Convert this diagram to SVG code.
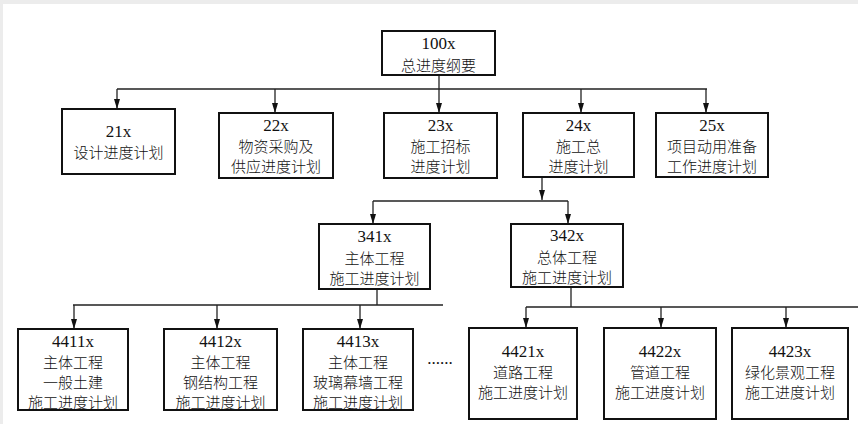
<svg xmlns="http://www.w3.org/2000/svg" width="858" height="424" viewBox="0 0 858 424">
<defs>
<marker id="ah" markerWidth="10" markerHeight="6" refX="10" refY="3" orient="auto" markerUnits="userSpaceOnUse">
<path d="M0,0 L10,3 L0,6 Z" fill="#111"/>
</marker>
<style>
.box{fill:#fff;stroke:#111;stroke-width:2}
.ln{fill:none;stroke:#222;stroke-width:1.3}
.ar{fill:none;stroke:#222;stroke-width:1.3;marker-end:url(#ah)}
text{font-family:"Liberation Serif","Noto Sans CJK SC",serif;font-size:16px;fill:#111;text-anchor:middle;dominant-baseline:central}
.num{font-family:"Liberation Serif",serif;font-size:17px}
.cn{font-family:"Noto Sans CJK SC",sans-serif;font-size:15px;font-weight:300}
</style>
</defs>
<rect x="0" y="0" width="858" height="424" fill="#fff"/>
<rect x="0" y="0" width="858" height="4" fill="#ececec"/>
<rect x="0" y="0" width="3" height="424" fill="#ececec"/>

<g id="connectors">
<path class="ln" d="M439,75 V89 M117,89 H707"/>
<path class="ar" d="M117,89 V109"/>
<path class="ar" d="M275,89 V113"/>
<path class="ar" d="M439,89 V113"/>
<path class="ar" d="M581,89 V113"/>
<path class="ar" d="M706,89 V113"/>
<path class="ar" d="M542,177 V200"/>
<path class="ln" d="M373,201 H568"/>
<path class="ar" d="M373,201 V224"/>
<path class="ar" d="M568,201 V224"/>
<path class="ln" d="M377,289 V305 M73,305 H443"/>
<path class="ar" d="M74,305 V329"/>
<path class="ar" d="M217,305 V329"/>
<path class="ar" d="M360,305 V329"/>
<path class="ln" d="M571,287 V307 M526,307 H858"/>
<path class="ar" d="M526,307 V328"/>
<path class="ar" d="M661,307 V328"/>
<path class="ar" d="M786,307 V328"/>
</g>

<g id="n100">
<rect class="box" x="382" y="31" width="113" height="44"/>
<text class="num" x="438.5" y="43">100x</text>
<text class="cn" x="438.5" y="64">总进度纲要</text>
</g>
<g id="n21">
<rect class="box" x="62" y="109" width="113" height="65"/>
<text class="num" x="118.5" y="131">21x</text>
<text class="cn" x="118.5" y="151">设计进度计划</text>
</g>
<g id="n22">
<rect class="box" x="219" y="113" width="114" height="65"/>
<text class="num" x="276" y="125">22x</text>
<text class="cn" x="276" y="145">物资采购及</text>
<text class="cn" x="276" y="165">供应进度计划</text>
</g>
<g id="n23">
<rect class="box" x="384" y="113" width="113" height="65"/>
<text class="num" x="440.5" y="125">23x</text>
<text class="cn" x="440.5" y="145">施工招标</text>
<text class="cn" x="440.5" y="165">进度计划</text>
</g>
<g id="n24">
<rect class="box" x="523" y="113" width="111" height="64"/>
<text class="num" x="578.5" y="125">24x</text>
<text class="cn" x="578.5" y="145">施工总</text>
<text class="cn" x="578.5" y="165">进度计划</text>
</g>
<g id="n25">
<rect class="box" x="656" y="113" width="112" height="64"/>
<text class="num" x="712" y="125">25x</text>
<text class="cn" x="712" y="145">项目动用准备</text>
<text class="cn" x="712" y="165">工作进度计划</text>
</g>
<g id="n341">
<rect class="box" x="319" y="224" width="111" height="65"/>
<text class="num" x="374.5" y="236">341x</text>
<text class="cn" x="374.5" y="257">主体工程</text>
<text class="cn" x="374.5" y="277">施工进度计划</text>
</g>
<g id="n342">
<rect class="box" x="511" y="224" width="112" height="63"/>
<text class="num" x="567" y="235">342x</text>
<text class="cn" x="567" y="256">总体工程</text>
<text class="cn" x="567" y="276">施工进度计划</text>
</g>
<g id="n4411">
<rect class="box" x="18" y="329" width="110" height="81"/>
<text class="num" x="73" y="341">4411x</text>
<text class="cn" x="73" y="361">主体工程</text>
<text class="cn" x="73" y="381">一般土建</text>
<text class="cn" x="73" y="401">施工进度计划</text>
</g>
<g id="n4412">
<rect class="box" x="164" y="329" width="113" height="81"/>
<text class="num" x="220.5" y="341">4412x</text>
<text class="cn" x="220.5" y="361">主体工程</text>
<text class="cn" x="220.5" y="381">钢结构工程</text>
<text class="cn" x="220.5" y="401">施工进度计划</text>
</g>
<g id="n4413">
<rect class="box" x="303" y="329" width="110" height="81"/>
<text class="num" x="358" y="341">4413x</text>
<text class="cn" x="358" y="361">主体工程</text>
<text class="cn" x="358" y="381">玻璃幕墙工程</text>
<text class="cn" x="358" y="401">施工进度计划</text>
</g>
<text class="num" x="440" y="358">......</text>
<g id="n4421">
<rect class="box" x="469" y="328" width="108" height="91"/>
<text class="num" x="523" y="351">4421x</text>
<text class="cn" x="523" y="371">道路工程</text>
<text class="cn" x="523" y="391">施工进度计划</text>
</g>
<g id="n4422">
<rect class="box" x="604" y="328" width="112" height="91"/>
<text class="num" x="660" y="351">4422x</text>
<text class="cn" x="660" y="371">管道工程</text>
<text class="cn" x="660" y="391">施工进度计划</text>
</g>
<g id="n4423">
<rect class="box" x="732" y="328" width="116" height="91"/>
<text class="num" x="790" y="351">4423x</text>
<text class="cn" x="790" y="371">绿化景观工程</text>
<text class="cn" x="790" y="391">施工进度计划</text>
</g>
</svg>
